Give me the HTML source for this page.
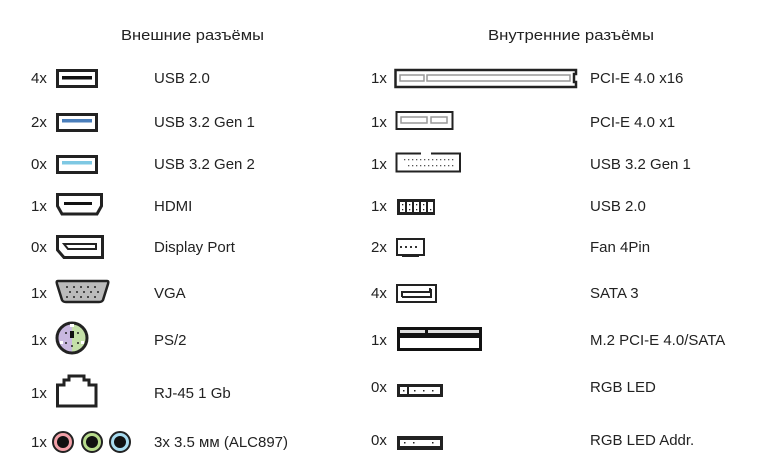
<!DOCTYPE html>
<html><head><meta charset="utf-8"><style>
html,body{margin:0;padding:0;background:#fff;}
svg{display:block;}
text{font-family:"Liberation Sans",sans-serif;font-size:15px;fill:#222;}
</style></head><body>
<svg width="768" height="471" viewBox="0 0 768 471" xmlns="http://www.w3.org/2000/svg">
<text x="121" y="40" textLength="143" lengthAdjust="spacingAndGlyphs">Внешние разъёмы</text>
<text x="488" y="40" textLength="166" lengthAdjust="spacingAndGlyphs">Внутренние разъёмы</text>

<g>
<text x="31" y="83">4x</text>
<text x="31" y="127">2x</text>
<text x="31" y="169">0x</text>
<text x="31" y="211">1x</text>
<text x="31" y="252">0x</text>
<text x="31" y="298">1x</text>
<text x="31" y="345">1x</text>
<text x="31" y="398">1x</text>
<text x="31" y="447">1x</text>
</g>
<g>
<text x="154" y="83">USB 2.0</text>
<text x="154" y="127">USB 3.2 Gen 1</text>
<text x="154" y="169">USB 3.2 Gen 2</text>
<text x="154" y="211">HDMI</text>
<text x="154" y="252">Display Port</text>
<text x="154" y="298">VGA</text>
<text x="154" y="345">PS/2</text>
<text x="154" y="398">RJ-45 1 Gb</text>
<text x="154" y="447">3x 3.5 мм (ALC897)</text>
</g>

<rect x="57.5" y="70.5" width="39" height="16" fill="none" stroke="#222" stroke-width="3"/>
<rect x="62" y="76" width="30" height="3.5" fill="#111"/>
<rect x="57.5" y="114.5" width="39" height="16" fill="none" stroke="#222" stroke-width="3"/>
<rect x="62" y="119" width="30" height="3.5" fill="#4a7ebb"/>
<rect x="57.5" y="156.5" width="39" height="16" fill="none" stroke="#222" stroke-width="3"/>
<rect x="62" y="161" width="30" height="3.5" fill="#7ec8e3"/>
<path d="M57.5,194.5 H101.5 V206 L97,214 H62 L57.5,206 Z" fill="none" stroke="#222" stroke-width="3"/>
<rect x="64" y="202" width="28" height="3" fill="#111"/>
<path d="M57.5,236.5 H102.5 V257.5 H64 L57.5,250 Z" fill="none" stroke="#222" stroke-width="3"/>
<path d="M64,244 H96 V249 H68 Z" fill="none" stroke="#222" stroke-width="2"/>
<path d="M58,281 H107 Q109,281 108,284 L103,300 Q102,302 99,302 H66 Q63,302 62,300 L57,284 Q56,281 58,281 Z" fill="#bbb" stroke="#222" stroke-width="2.5"/>
<g fill="#222">
<circle cx="67" cy="287" r="1"/><circle cx="74" cy="287" r="1"/><circle cx="81" cy="287" r="1"/><circle cx="88" cy="287" r="1"/><circle cx="95" cy="287" r="1"/>
<circle cx="70" cy="292" r="1"/><circle cx="77" cy="292" r="1"/><circle cx="84" cy="292" r="1"/><circle cx="91" cy="292" r="1"/><circle cx="98" cy="292" r="1"/>
<circle cx="67" cy="297" r="1"/><circle cx="74" cy="297" r="1"/><circle cx="81" cy="297" r="1"/><circle cx="88" cy="297" r="1"/><circle cx="95" cy="297" r="1"/>
</g>
<path d="M72,323 A15,15 0 0 0 72,353 Z" fill="#c9b8e0"/>
<path d="M72,323 A15,15 0 0 1 72,353 Z" fill="#c4e0a8"/>
<circle cx="72" cy="338" r="15" fill="none" stroke="#222" stroke-width="3"/>
<rect x="70" y="331" width="4" height="7" fill="#111"/>
<rect x="70" y="324" width="4" height="3" fill="#fff"/>
<rect x="60" y="341" width="3" height="3" fill="#fff"/><rect x="81" y="341" width="3" height="3" fill="#fff"/>
<g fill="#222"><circle cx="66" cy="333" r="1"/><circle cx="78" cy="333" r="1"/><circle cx="66" cy="343" r="1"/><circle cx="78" cy="343" r="1"/><circle cx="72" cy="346" r="1"/></g>
<path d="M57.5,406 V385 H64 V380 H69 V376 H84 V380 H89 V385 H96 V406 Z" fill="none" stroke="#222" stroke-width="3"/>
<circle cx="63" cy="442" r="10" fill="#f2a0a8" stroke="#222" stroke-width="2"/><circle cx="63" cy="442" r="6" fill="#111"/>
<circle cx="92" cy="442" r="10" fill="#b8dc8c" stroke="#222" stroke-width="2"/><circle cx="92" cy="442" r="6" fill="#111"/>
<circle cx="120" cy="442" r="10" fill="#a8dcf0" stroke="#222" stroke-width="2"/><circle cx="120" cy="442" r="6" fill="#111"/>

<g>
<text x="371" y="83">1x</text>
<text x="371" y="127">1x</text>
<text x="371" y="169">1x</text>
<text x="371" y="211">1x</text>
<text x="371" y="252">2x</text>
<text x="371" y="298">4x</text>
<text x="371" y="345">1x</text>
<text x="371" y="392">0x</text>
<text x="371" y="445">0x</text>
</g>
<g>
<text x="590" y="83">PCI-E 4.0 x16</text>
<text x="590" y="127">PCI-E 4.0 x1</text>
<text x="590" y="169">USB 3.2 Gen 1</text>
<text x="590" y="211">USB 2.0</text>
<text x="590" y="252">Fan 4Pin</text>
<text x="590" y="298">SATA 3</text>
<text x="590" y="345">M.2 PCI-E 4.0/SATA</text>
<text x="590" y="392">RGB LED</text>
<text x="590" y="445">RGB LED Addr.</text>
</g>
<path d="M395.5,70 H576 V74 H574 V82 H576 V87 H395.5 Z" fill="none" stroke="#222" stroke-width="2.5"/>
<rect x="400" y="75" width="24" height="6" fill="none" stroke="#999" stroke-width="1.5"/>
<rect x="427" y="75" width="143" height="6" fill="none" stroke="#999" stroke-width="1.5"/>
<rect x="396.5" y="112" width="56" height="17" fill="none" stroke="#222" stroke-width="2"/>
<rect x="401" y="117" width="26" height="6" fill="none" stroke="#999" stroke-width="1.5"/>
<rect x="431" y="117" width="16" height="6" fill="none" stroke="#999" stroke-width="1.5"/>
<path d="M421,153.5 H396.5 V171.5 H460 V153.5 H431" fill="none" stroke="#222" stroke-width="2"/>
<g fill="#555">
<rect x="404" y="159" width="1.3" height="1.3"/><rect x="408" y="159" width="1.3" height="1.3"/><rect x="412" y="159" width="1.3" height="1.3"/><rect x="416" y="159" width="1.3" height="1.3"/><rect x="420" y="159" width="1.3" height="1.3"/><rect x="424" y="159" width="1.3" height="1.3"/><rect x="428" y="159" width="1.3" height="1.3"/><rect x="432" y="159" width="1.3" height="1.3"/><rect x="436" y="159" width="1.3" height="1.3"/><rect x="440" y="159" width="1.3" height="1.3"/><rect x="444" y="159" width="1.3" height="1.3"/><rect x="448" y="159" width="1.3" height="1.3"/><rect x="452" y="159" width="1.3" height="1.3"/>
<rect x="408" y="165" width="1.3" height="1.3"/><rect x="412" y="165" width="1.3" height="1.3"/><rect x="416" y="165" width="1.3" height="1.3"/><rect x="420" y="165" width="1.3" height="1.3"/><rect x="424" y="165" width="1.3" height="1.3"/><rect x="428" y="165" width="1.3" height="1.3"/><rect x="432" y="165" width="1.3" height="1.3"/><rect x="436" y="165" width="1.3" height="1.3"/><rect x="440" y="165" width="1.3" height="1.3"/><rect x="444" y="165" width="1.3" height="1.3"/><rect x="448" y="165" width="1.3" height="1.3"/><rect x="452" y="165" width="1.3" height="1.3"/>
</g>
<rect x="397" y="199" width="38" height="16" fill="#222"/>
<g fill="#fff">
<rect x="400" y="202" width="5" height="10"/><rect x="407" y="202" width="5" height="10"/><rect x="414" y="202" width="5" height="10"/><rect x="421" y="202" width="5" height="10"/><rect x="428" y="202" width="5" height="10"/>
</g>
<g fill="#222"><rect x="402" y="204" width="1.3" height="1.3"/><rect x="409" y="204" width="1.3" height="1.3"/><rect x="416" y="204" width="1.3" height="1.3"/><rect x="423" y="204" width="1.3" height="1.3"/>
<rect x="402" y="209" width="1.3" height="1.3"/><rect x="409" y="209" width="1.3" height="1.3"/><rect x="416" y="209" width="1.3" height="1.3"/><rect x="423" y="209" width="1.3" height="1.3"/><rect x="430" y="209" width="1.3" height="1.3"/></g>
<rect x="397" y="239" width="27" height="16" fill="none" stroke="#222" stroke-width="2"/>
<rect x="402" y="254" width="17" height="3" fill="#222"/>
<g fill="#333"><rect x="400" y="246" width="2" height="2"/><rect x="405" y="246" width="2" height="2"/><rect x="410" y="246" width="2" height="2"/><rect x="415" y="246" width="2" height="2"/></g>
<rect x="397" y="285" width="39" height="17" fill="none" stroke="#222" stroke-width="2"/>
<path d="M402,297 V292 H430 V288 M402,297 H431 V289" fill="none" stroke="#222" stroke-width="2"/>
<rect x="397" y="327" width="85" height="24" fill="#111"/>
<rect x="400" y="338" width="79" height="10" fill="#fff"/>
<rect x="400" y="330" width="25" height="3" fill="#ddd"/>
<rect x="428" y="330" width="51" height="3" fill="#ddd"/>
<rect x="397" y="384" width="46" height="13" fill="#222"/>
<rect x="400" y="387" width="7" height="7" fill="#fff"/><rect x="409" y="387" width="31" height="7" fill="#fff"/>
<g fill="#222"><rect x="403" y="390" width="1.5" height="1.5"/><rect x="414" y="390" width="1.5" height="1.5"/><rect x="423" y="390" width="1.5" height="1.5"/><rect x="432" y="390" width="1.5" height="1.5"/></g>
<rect x="397" y="436" width="46" height="14" fill="#222"/>
<rect x="400" y="440" width="40" height="6" fill="#fff"/>
<g fill="#222"><rect x="404" y="442" width="1.5" height="1.5"/><rect x="413" y="442" width="1.5" height="1.5"/><rect x="432" y="442" width="1.5" height="1.5"/></g>
</svg>
</body></html>
